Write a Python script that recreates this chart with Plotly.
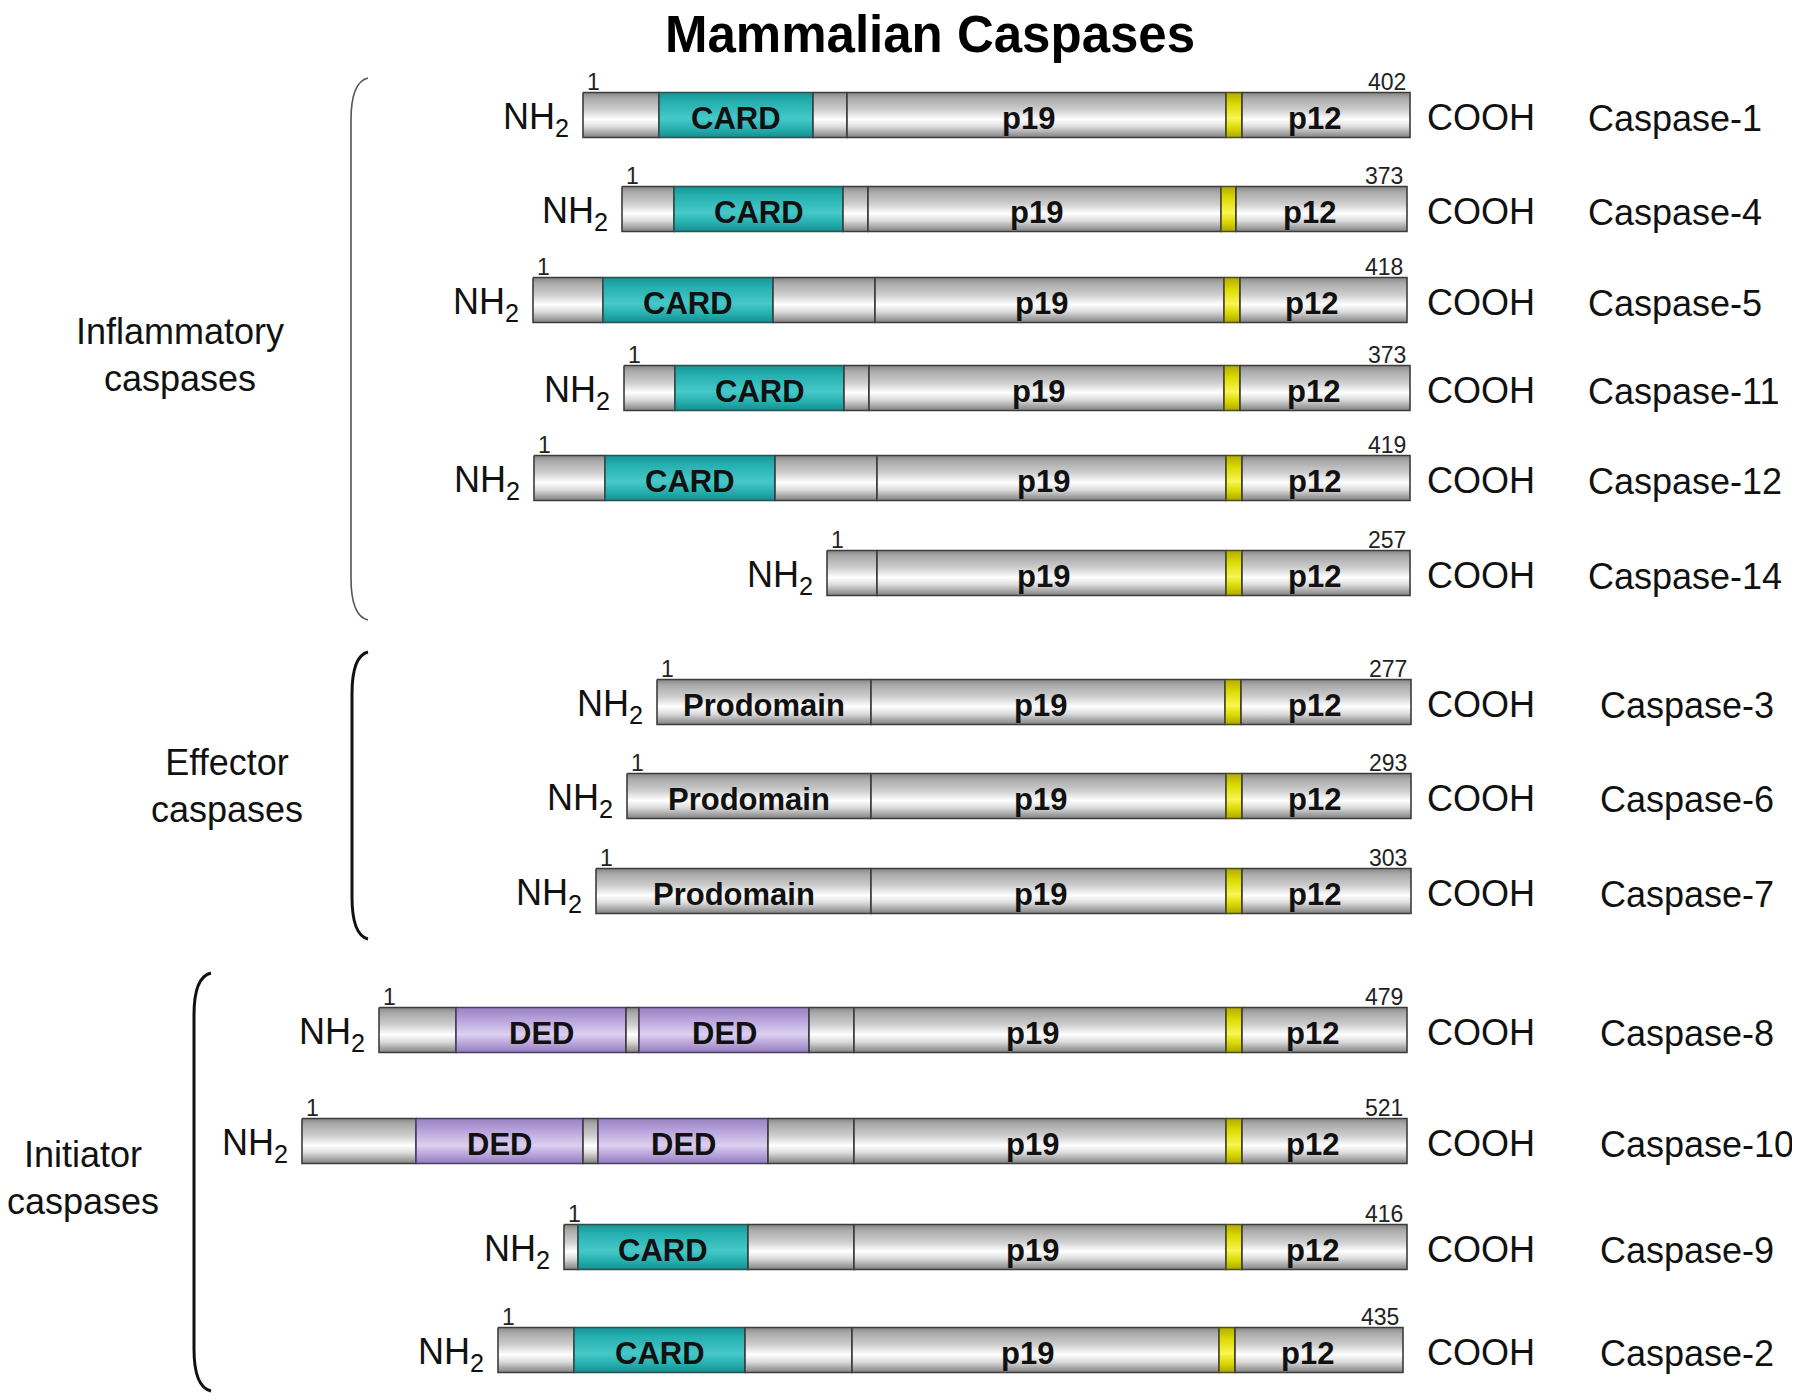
import plotly.graph_objects as go

# ---------------- data ----------------
caspases = ["Caspase-1", "Caspase-4", "Caspase-5", "Caspase-11", "Caspase-12", "Caspase-14",
            "Caspase-3", "Caspase-6", "Caspase-7",
            "Caspase-8", "Caspase-10", "Caspase-9", "Caspase-2"]
groups = ["Inflammatory"] * 6 + ["Effector"] * 3 + ["Initiator"] * 4
lengths = [402, 373, 418, 373, 419, 257, 277, 293, 303, 479, 521, 416, 435]

# positions along the drawing axis (diagram units, not to residue scale)
n_term = [583, 622, 533, 624, 534, 827, 657, 627, 596, 379, 302, 564, 498]
c_term = [1410, 1407, 1407, 1410, 1410, 1410, 1411, 1411, 1411, 1407, 1407, 1407, 1403]
# recruitment modules in the prodomain: (kind, start, end)
modules = [
    [("CARD", 659, 813)],
    [("CARD", 674, 843)],
    [("CARD", 603, 773)],
    [("CARD", 675, 844)],
    [("CARD", 605, 775)],
    [],
    [], [], [],
    [("DED", 456, 626), ("DED", 639, 809)],
    [("DED", 416, 583), ("DED", 598, 768)],
    [("CARD", 578, 748)],
    [("CARD", 574, 745)],
]
p19_start = [847, 868, 875, 869, 877, 877, 871, 871, 871, 854, 854, 854, 852]
cleave_start = [1226, 1221, 1224, 1224, 1226, 1226, 1225, 1226, 1226, 1226, 1226, 1226, 1219]
cleave_end = [1242, 1236, 1240, 1240, 1242, 1242, 1241, 1242, 1242, 1242, 1242, 1242, 1235]

group_labels = {"Inflammatory": "Inflammatory<br>caspases",
                "Effector": "Effector<br>caspases",
                "Initiator": "Initiator<br>caspases"}

# ---------------- layout constants ----------------
PAGE_PAD = 8            # default body margin of the html page
W, H = 1800 - PAGE_PAD, 1400 - PAGE_PAD
row_y = [115, 209, 300, 388, 478, 573, 702, 796, 891, 1030, 1141, 1247, 1350]
bar_h = 45
FONT = "Liberation Sans, Arial, Helvetica, sans-serif"

group_label_pos = {"Inflammatory": (180, 355), "Effector": (227, 786), "Initiator": (83, 1178)}
# bracket: (x of spine, x of tips, top, bottom, width, color)
brackets = [(351, 368, 78, 620, 1.6, "#555555"),
            (352, 368, 652, 939, 3.0, "#111111"),
            (194, 211, 973, 1391, 3.0, "#111111")]
name_x = {"Inflammatory": 1586, "Effector": 1598, "Initiator": 1598}

grey_cs = [[0.0, "#858585"], [0.12, "#a9a9a9"], [0.38, "#cdcdcd"], [0.6, "#ffffff"],
           [0.76, "#dcdcdc"], [0.9, "#a6a6a6"], [1.0, "#828282"]]
card_cs = [[0.0, "#179494"], [0.2, "#25afaf"], [0.58, "#47c8c8"], [0.8, "#27b0b0"], [1.0, "#158e8e"]]
ded_cs = [[0.0, "#9882c0"], [0.25, "#b6a0da"], [0.6, "#dcd0f0"], [0.82, "#b5a0d8"], [1.0, "#937dbc"]]
yel_cs = [[0.0, "#b0ac00"], [0.25, "#dcd800"], [0.58, "#f8f650"], [0.8, "#dad600"], [1.0, "#aaa600"]]
scales = {"grey": grey_cs, "CARD": card_cs, "DED": ded_cs, "yellow": yel_cs}
edge = {"grey": "#3c3c3c", "CARD": "#2d4f4f", "DED": "#4a3d66", "yellow": "#4d4d20"}

fig = go.Figure()
ann = []


def seg(x0, x1, yc, kind, label=None, label_dx=0):
    yt, yb = yc - bar_h / 2, yc + bar_h / 2
    fig.add_trace(go.Scatter(
        x=[x0, x1, x1, x0, x0], y=[yt, yt, yb, yb, yt],
        mode="lines", fill="toself",
        line=dict(color=edge[kind], width=1.6),
        fillgradient=dict(type="vertical", colorscale=scales[kind], start=yt, stop=yb),
        hoverinfo="skip", showlegend=False))
    if label:
        ann.append(dict(x=(x0 + x1) / 2 + label_dx, y=yc + 3, text=label, showarrow=False,
                        xanchor="center", yanchor="middle",
                        font=dict(family=FONT, size=31, color="#111111", weight="bold")))


for i, name in enumerate(caspases):
    yc = row_y[i]
    cur = n_term[i]
    for kind, s, e in modules[i]:
        if s > cur:
            seg(cur, s, yc, "grey")
        seg(s, e, yc, kind, kind)
        cur = e
    if p19_start[i] > cur:
        lab = "Prodomain" if groups[i] == "Effector" else None
        seg(cur, p19_start[i], yc, "grey", lab)
    seg(p19_start[i], cleave_start[i], yc, "grey", "p19", -8)
    seg(cleave_start[i], cleave_end[i], yc, "yellow")
    seg(cleave_end[i], c_term[i], yc, "grey", "p12", -12)

    yt = yc - bar_h / 2
    ann.append(dict(x=n_term[i] + 10, y=yt + 4, text="1", showarrow=False,
                    xanchor="center", yanchor="bottom",
                    font=dict(family=FONT, size=23, color="#222222")))
    ann.append(dict(x=c_term[i] - 2, y=yt + 4, text=str(lengths[i]), showarrow=False,
                    xanchor="right", yanchor="bottom",
                    font=dict(family=FONT, size=23, color="#222222")))
    ann.append(dict(x=n_term[i] - 12, y=yc + 4, text="NH<sub>2</sub>", showarrow=False,
                    xanchor="right", yanchor="middle",
                    font=dict(family=FONT, size=36, color="#111111")))
    ann.append(dict(x=1425, y=yc + 2, text="COOH", showarrow=False,
                    xanchor="left", yanchor="middle",
                    font=dict(family=FONT, size=36, color="#111111")))
    ann.append(dict(x=name_x[groups[i]], y=yc + 3, text=name, showarrow=False,
                    xanchor="left", yanchor="middle",
                    font=dict(family=FONT, size=36, color="#111111")))

for g, (gx, gy) in group_label_pos.items():
    ann.append(dict(x=gx, y=gy, text=group_labels[g], showarrow=False, align="center",
                    xanchor="center", yanchor="middle",
                    font=dict(family=FONT, size=36, color="#111111")))

ann.append(dict(x=930, y=34, text="Mammalian Caspases", showarrow=False,
                xanchor="center", yanchor="middle",
                font=dict(family=FONT, size=51, color="#000000", weight="bold")))

shapes = []
for xs, xt, y0, y1, w, c in brackets:
    r = 42
    path = (f"M {xt},{y0} Q {xs},{y0 + 4} {xs},{y0 + r} L {xs},{y1 - r} "
            f"Q {xs},{y1 - 4} {xt},{y1}")
    shapes.append(dict(type="path", path=path, xref="x", yref="y",
                       line=dict(color=c, width=w)))

fig.update_layout(
    width=W, height=H, margin=dict(l=0, r=0, t=0, b=0),
    paper_bgcolor="white", plot_bgcolor="white",
    xaxis=dict(range=[PAGE_PAD, 1800], visible=False, fixedrange=True),
    yaxis=dict(range=[1400, PAGE_PAD], visible=False, fixedrange=True),
    annotations=ann, shapes=shapes, showlegend=False,
)

fig.write_html("out.html", config={"displayModeBar": False})
